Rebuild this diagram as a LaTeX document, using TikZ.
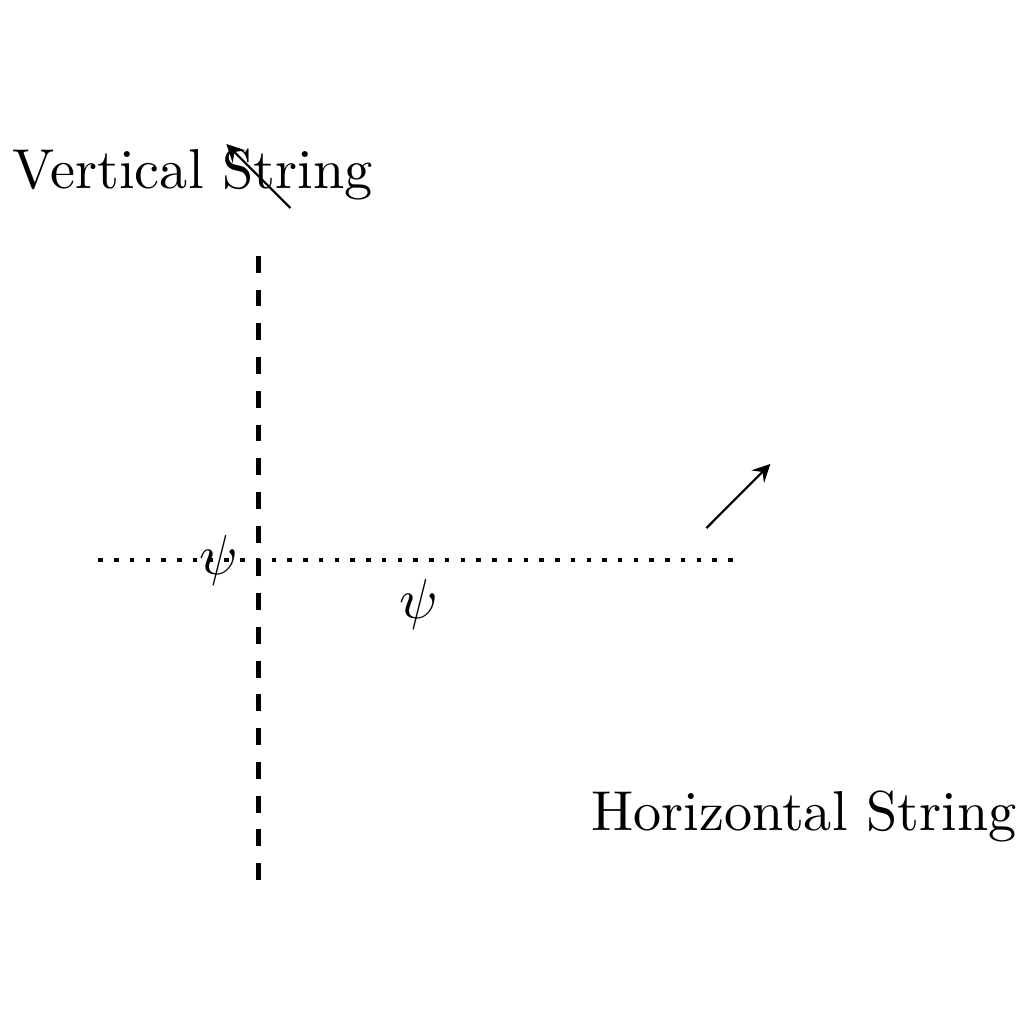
\documentclass[tikz,border=0pt]{standalone}
\usetikzlibrary{positioning}
\usetikzlibrary{arrows.meta}

\begin{document}
\begin{tikzpicture}[
  vstring/.style = {thick, dashed},
  hstring/.style = {thick, dotted},
  move/.style = {-stealth},
  field/.style = {inner sep=3.33pt},
]
  \useasboundingbox (-1.615,-2.9) rectangle (4.785,3.5);

  \coordinate (o) at (0,0);
  \coordinate (vb) at (0,-2);
  \coordinate (vt) at (0,2);
  \coordinate (hl) at (-1,0);
  \coordinate (hr) at (3,0);
  \coordinate (hm) at (1,0);

  %\draw (vb) -- (vt);
  \draw[vstring] (vb) -- (vt);
  \draw[hstring] (hl) -- (hr);

  \node[field, left=0pt of o] (psiv) {$\psi$};
  \node[field, below=0pt of hm] (psih) {$\psi$};

  \coordinate (a0) at (0.2,2.2);
  \coordinate (a1) at (-0.2,2.6);
  \coordinate (b0) at (2.8,0.2);
  \coordinate (b1) at (3.2,0.6);
  \draw[move] (a0) -- (a1);
  \draw[move] (b0) -- (b1);

  \node (vlabel) at (-0.41,2.41) {Vertical String};
  \node (hlabel) at (3.41,-1.605) {Horizontal String};
  % \node at (o) {o};

\end{tikzpicture}
\end{document}
